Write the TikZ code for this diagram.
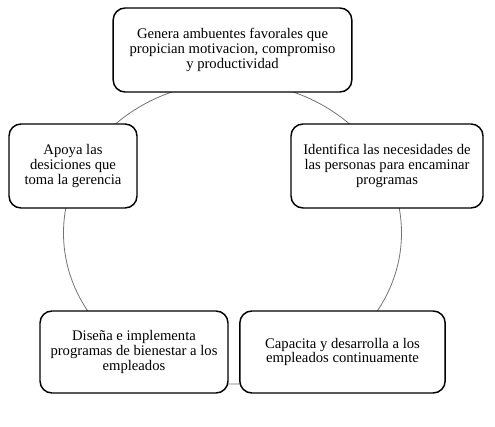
\documentclass[tikz,border=0pt]{standalone}
\usepackage{fontspec}
\setmainfont{Liberation Serif}
\usetikzlibrary{positioning}

\begin{document}
\begin{tikzpicture}[x=0.75pt, y=-0.75pt,
        tarea/.style={draw=black, line width=1.1pt, rounded corners=9pt,
            fill=white, align=center, inner sep=2pt,
            font=\fontsize{11}{11}\selectfont},
        ciclo/.style={draw=black!55, line width=0.6pt}]
            \useasboundingbox (0,0) rectangle (495,427);

            % the ring behind the boxes
            \draw [ciclo] (232.5,233) ellipse [x radius=169, y radius=151];

            \node [tarea, minimum width=179pt, minimum height=63pt] (genera) at (232.5,50)
                {Genera ambuentes favorales que\\propician motivacion, compromiso\\y productividad};
            \node [tarea, minimum width=144pt, minimum height=63pt] (identifica) at (387,166)
                {Identifica las necesidades de\\las personas para encaminar\\programas};
            \node [tarea, minimum width=154pt, minimum height=61.5pt] (capacita) at (342.5,352)
                {Capacita y desarrolla a los\\empleados continuamente};
            \node [tarea, minimum width=141pt, minimum height=61.5pt] (disena) at (134,352)
                {Diseña e implementa\\programas de bienestar a los\\empleados};
            \node [tarea, minimum width=96pt, minimum height=63pt] (apoya) at (73,166)
                {Apoya las\\desiciones que\\toma la gerencia};
        \end{tikzpicture}
\end{document}
